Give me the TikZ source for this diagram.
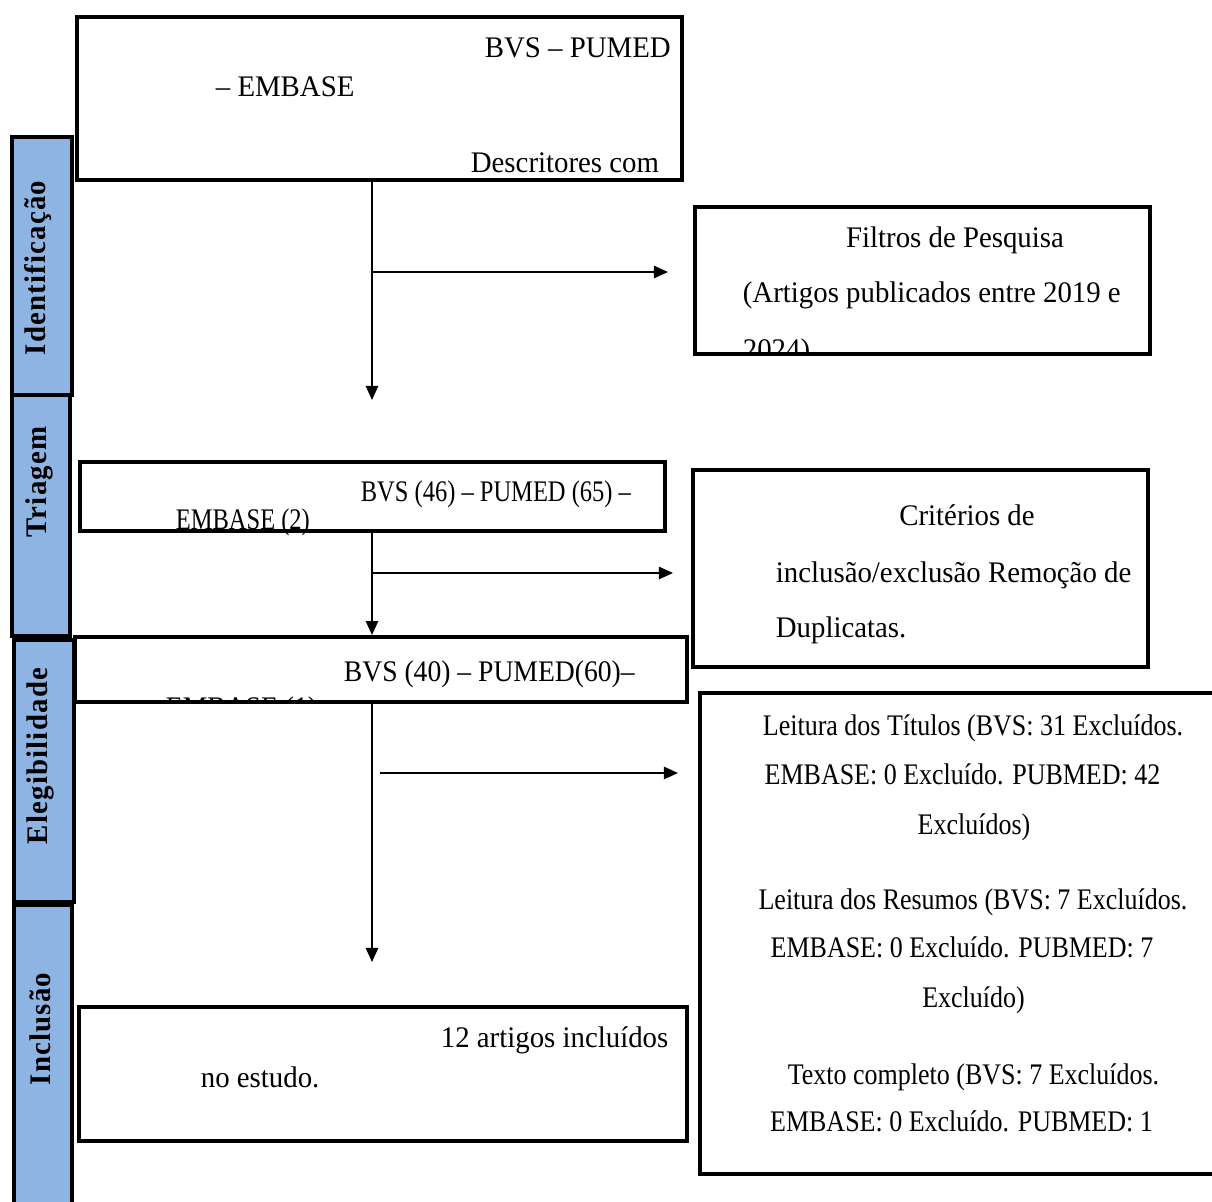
\documentclass[tikz,border=0pt]{standalone}
\usepackage{fontspec}
\setmainfont{Liberation Serif}[FakeStretch=0.965]
\newfontfamily\estreita{Liberation Serif}[FakeStretch=0.87]
\newfontfamily\triada{Liberation Serif}[FakeStretch=0.82]
\newfontfamily\media{Liberation Serif}[FakeStretch=0.925]
\usetikzlibrary{arrows.meta}
\definecolor{faixa}{RGB}{142,180,227}

\begin{document}
\begin{tikzpicture}[>={Triangle[length=8pt,width=7pt]},line width=1pt,
                    box/.style={draw,line width=2.2pt,inner sep=0pt},
                    band/.style={draw,line width=2.4pt,fill=faixa,inner sep=0pt},
                    txt/.style={inner sep=0pt,font=\fontsize{17}{20}\selectfont},
                    txtn/.style={inner sep=0pt,font=\fontsize{17}{20}\selectfont\estreita},
                    txtt/.style={inner sep=0pt,font=\fontsize{17}{20}\selectfont\triada},
                    txtm/.style={inner sep=0pt,font=\fontsize{17}{20}\selectfont\media},
                    bandtxt/.style={inner sep=0pt,rotate=90,font=\fontsize{17}{20}\selectfont\bfseries\addfontfeature{LetterSpace=4}}]
                    \useasboundingbox (0,0) rectangle (24.24,-24.04);

                    \node[band,minimum width=1.2cm,minimum height=5.16cm] at (0.84,-5.32) (ident) {};
                    \node[band,minimum width=1.16cm,minimum height=4.82cm] at (0.82,-10.31) (triag) {};
                    \node[band,minimum width=1.2cm,minimum height=5.24cm] at (0.88,-15.42) (eleg) {};
                    \node[band,minimum width=1.16cm,minimum height=6.3cm] at (0.86,-21.25) (incl) {};
                    \node[bandtxt] at (0.76,-5.36) (identtxt) {Identificação};
                    \node[bandtxt] at (0.78,-9.64) (triagtxt) {Triagem};
                    \node[bandtxt] at (0.8,-15.12) (elegtxt) {Elegibilidade};
                    \node[bandtxt] at (0.8,-20.58) (incltxt) {Inclusão};

                    \node[box,minimum width=12.1cm,minimum height=3.26cm] at (7.59,-1.97) (busca) {};
                    \node[box,minimum width=9.1cm,minimum height=2.94cm] at (18.45,-5.61) (filtros) {};
                    \node[box,minimum width=11.7cm,minimum height=1.38cm] at (7.45,-9.93) (triados) {};
                    \node[box,minimum width=9.1cm,minimum height=3.94cm] at (18.41,-11.37) (criterios) {};
                    \node[box,minimum width=12.24cm,minimum height=1.3cm] at (7.62,-13.39) (elegiveis) {};
                    \node[box,minimum width=10.8cm,minimum height=9.62cm] at (19.4,-18.67) (leitura) {};
                    \node[box,minimum width=12.16cm,minimum height=2.68cm] at (7.66,-21.48) (incluidos) {};

                    \node[txt,anchor=base west] at (9.68,-1.14) (busca1) {BVS – PUMED};
                    \node[txt,anchor=base west] at (4.3,-1.92) (busca2) {– EMBASE};
                    \node[txt,anchor=base west] at (9.4,-3.44) (busca3) {Descritores com};

                    \node[txt,anchor=base] at (19.1,-4.94) (filtros1) {Filtros de Pesquisa};
                    \node[txt,anchor=base west] at (14.84,-6.04) (filtros2) {(Artigos publicados entre 2019 e};
                    \begin{scope}
                    \clip ([yshift=0.04cm]filtros.south west) rectangle (filtros.north east);
                    \node[txt,anchor=base west] at (14.84,-7.18) (filtros3) {2024)};
                    \end{scope}

                    \node[txtt,anchor=base west] at (7.2,-10.02) (triados1) {BVS (46) – PUMED (65) –};
                    \node[txtt,anchor=base west] at (3.5,-10.58) (triados2) {EMBASE (2)};

                    \node[txt,anchor=base] at (19.34,-10.5) (criterios1) {Critérios de};
                    \node[txt,anchor=base west] at (15.5,-11.64) (criterios2) {inclusão/exclusão Remoção de};
                    \node[txt,anchor=base west] at (15.5,-12.74) (criterios3) {Duplicatas.};

                    \node[txtm,anchor=base west] at (6.86,-13.62) (elegiveis1) {BVS (40) – PUMED(60)–};
                    \begin{scope}
                    \clip ([yshift=0.04cm]elegiveis.south west) rectangle (elegiveis.north east);
                    \node[txtm,anchor=base west] at (3.3,-14.34) (elegiveis2) {EMBASE (1)};
                    \end{scope}

                    \node[txtn,anchor=base] at (19.46,-14.7) (leitura1) {Leitura dos Títulos (BVS: 31 Excluídos.};
                    \node[txtn,anchor=base] at (19.25,-15.68) (leitura2) {EMBASE: 0 Excluído. PUBMED: 42};
                    \node[txtn,anchor=base] at (19.48,-16.68) (leitura3) {Excluídos)};
                    \node[txtn,anchor=base] at (19.46,-18.18) (leitura4) {Leitura dos Resumos (BVS: 7 Excluídos.};
                    \node[txtn,anchor=base] at (19.24,-19.14) (leitura5) {EMBASE: 0 Excluído. PUBMED: 7};
                    \node[txtn,anchor=base] at (19.47,-20.14) (leitura6) {Excluído)};
                    \node[txtn,anchor=base] at (19.47,-21.68) (leitura7) {Texto completo (BVS: 7 Excluídos.};
                    \node[txtn,anchor=base] at (19.23,-22.62) (leitura8) {EMBASE: 0 Excluído. PUBMED: 1};

                    \node[txt,anchor=base west] at (8.8,-20.94) (incluidos1) {12 artigos incluídos};
                    \node[txt,anchor=base west] at (4.0,-21.74) (incluidos2) {no estudo.};

                    \coordinate (fim1) at (7.44,-8.0);
                    \coordinate (fim3) at (7.44,-19.24);
                    \coordinate (saida1) at (7.44,-5.44);
                    \coordinate (ponta1) at (13.36,-5.44);
                    \coordinate (saida2) at (7.44,-11.46);
                    \coordinate (ponta2) at (13.46,-11.46);
                    \coordinate (saida3) at (7.6,-15.46);
                    \coordinate (ponta3) at (13.56,-15.46);

                    \path[->] (busca.south -| fim1) edge (fim1);
                    \path[->] (triados.south -| fim1) edge (elegiveis.north -| fim1);
                    \path[->] (elegiveis.south -| fim1) edge (fim3);
                    \path[->] (saida1) edge (ponta1);
                    \path[->] (saida2) edge (ponta2);
                    \path[->] (saida3) edge (ponta3);
                \end{tikzpicture}
\end{document}
